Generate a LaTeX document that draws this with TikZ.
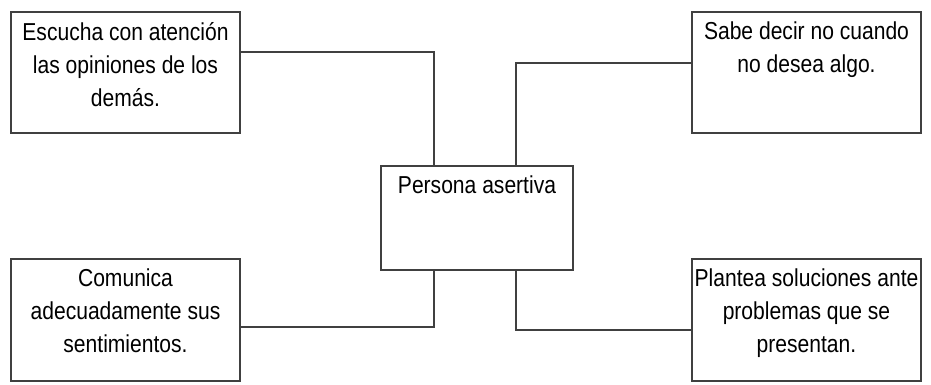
\documentclass[tikz,border=0pt]{standalone}
\usepackage{fontspec}
\setmainfont{Liberation Sans}[FakeStretch=0.86]
\begin{document}
\begin{tikzpicture}[x=1pt,y=-1pt,
  box/.style={draw=black!75, line width=1.3pt, inner sep=0pt, fill=white},
  link/.style={draw=black!75, line width=1.2pt}]
\useasboundingbox (0,0) rectangle (931,384);
\newcommand{\boxtext}[3]{\parbox[t][#2pt][t]{#1pt}{\centering\fontsize{24.5}{33}\selectfont\vspace{10pt}#3}}
\node[box] (tl) at (125.5,72.5) {\boxtext{229}{121}{Escucha con atención\\las opiniones de los\\demás.}};
\node[box] (tr) at (806.5,72.5) {\boxtext{229}{121}{Sabe decir no cuando\\no desea algo.}};
\node[box] (bl) at (125.5,320) {\boxtext{229}{122}{Comunica\\adecuadamente sus\\sentimientos.}};
\node[box] (br) at (806.5,320) {\boxtext{229}{122}{Plantea soluciones ante\\problemas que se\\presentan.}};
\node[box] (c) at (477,218) {\boxtext{192}{104}{Persona asertiva}};
\draw[link] ([yshift=20.5pt]tl.east) -| ([xshift=-43pt]c.north);
\draw[link] ([yshift=9.5pt]tr.west) -| ([xshift=39pt]c.north);
\draw[link] ([yshift=-7pt]bl.east) -| ([xshift=-43pt]c.south);
\draw[link] ([yshift=-10pt]br.west) -| ([xshift=39pt]c.south);
\end{tikzpicture}
\end{document}
